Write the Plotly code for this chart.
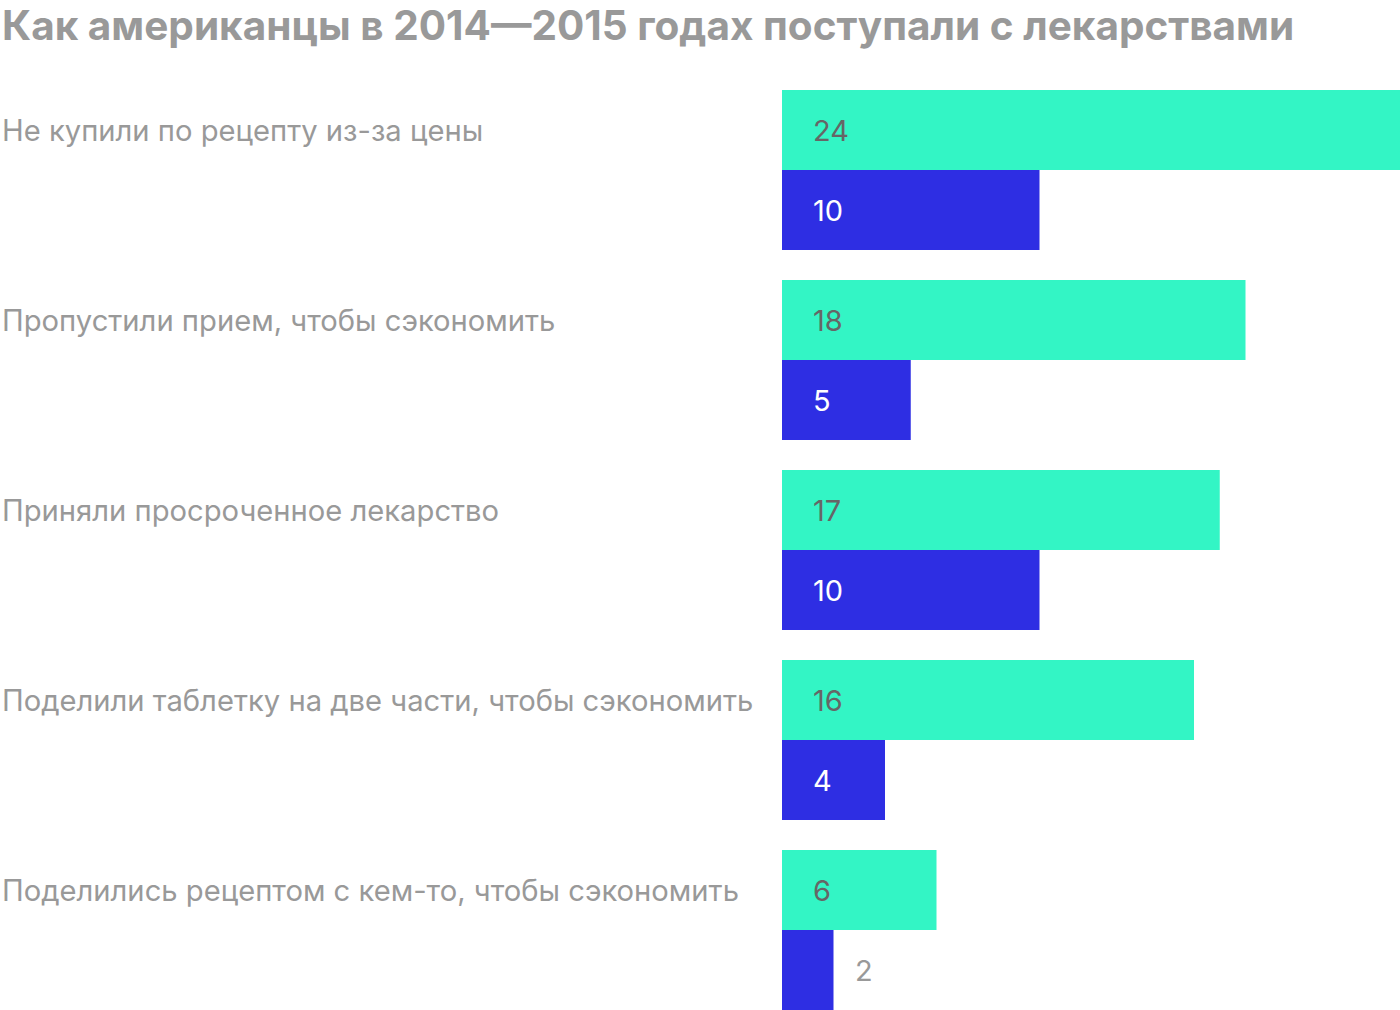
import plotly.graph_objects as go

title = "Как американцы в 2014—2015 годах поступали с лекарствами"
categories = [
    "Не купили по рецепту из-за цены",
    "Пропустили прием, чтобы сэкономить",
    "Приняли просроченное лекарство",
    "Поделили таблетку на две части, чтобы сэкономить",
    "Поделились рецептом с кем-то, чтобы сэкономить",
]
series_a = [24, 18, 17, 16, 6]   # green
series_b = [10, 5, 10, 4, 2]     # blue

GREEN = "#33F5C5"
BLUE = "#2E2EE3"
FONT = "Inter"

W, H = 1400, 1010
L, T = 782, 90
idx = list(range(len(categories)))

bargap = 30 / 190
half = (1 - bargap) / 2  # each bar width in category units
off = half / 2

fig = go.Figure()
fig.add_trace(go.Bar(y=idx, x=series_a, orientation="h", marker=dict(color=GREEN, line=dict(width=0)),
                     hoverinfo="x"))
fig.add_trace(go.Bar(y=idx, x=series_b, orientation="h", marker=dict(color=BLUE, line=dict(width=0)),
                     hoverinfo="x"))

ann = []
ann.append(dict(text=title, xref="paper", yref="paper", x=0, y=1, xanchor="left", yanchor="middle",
                xshift=-L + 0, yshift=T - 25, showarrow=False,
                font=dict(family=FONT, size=40.5, color="#999999", weight="bold")))
for i, c in enumerate(categories):
    ann.append(dict(text=c, xref="paper", yref="y", x=0, y=i - off, xanchor="left", yanchor="middle",
                    xshift=-L, showarrow=False, font=dict(family=FONT, size=29.2, color="#999999")))
    ann.append(dict(text=str(series_a[i]), xref="x", yref="y", x=0, y=i - off, xanchor="left",
                    yanchor="middle", xshift=29, showarrow=False,
                    font=dict(family=FONT, size=29, color="#666666")))
    vb = series_b[i]
    if vb >= 3:
        ann.append(dict(text=str(vb), xref="x", yref="y", x=0, y=i + off, xanchor="left",
                        yanchor="middle", xshift=29, showarrow=False,
                        font=dict(family=FONT, size=29, color="#FFFFFF")))
    else:
        ann.append(dict(text=str(vb), xref="x", yref="y", x=vb, y=i + off, xanchor="left",
                        yanchor="middle", xshift=19, showarrow=False,
                        font=dict(family=FONT, size=29, color="#999999")))

fig.update_layout(
    width=W, height=H,
    margin=dict(l=L, r=0, t=T, b=0, pad=0),
    barmode="group", bargap=bargap, bargroupgap=0,
    plot_bgcolor="white", paper_bgcolor="white",
    showlegend=False,
    xaxis=dict(range=[0, max(series_a)], visible=False, fixedrange=True),
    yaxis=dict(range=[len(categories) - 1 + 0.5 - bargap / 2, -0.5 + bargap / 2], visible=False, fixedrange=True),
    annotations=ann,
)

fig.write_html("out.html", config={"displayModeBar": False},
               post_script="document.body.style.margin='0px';document.body.style.overflow='hidden';")
